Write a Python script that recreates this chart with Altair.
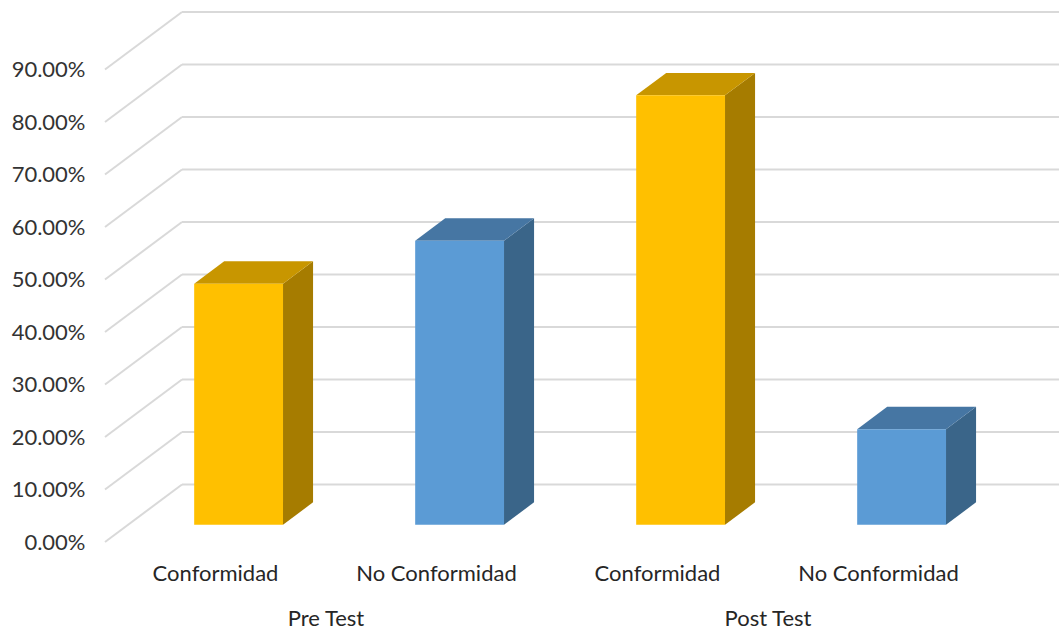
import altair as alt
import pandas as pd

# Survey results (percent of respondents)
groups = ["Pre Test", "Pre Test", "Post Test", "Post Test"]
categories = ["Conformidad", "No Conformidad", "Conformidad", "No Conformidad"]
values = [45.9, 54.1, 81.8, 18.2]
tick_values = [0, 10, 20, 30, 40, 50, 60, 70, 80, 90]

# Pseudo-3D layout (x in category slots, y in percent units)
PX_PER_PCT = 5.25
HEIGHT = 542
WIDTH = 954
SLOT_PX = 221
DX = 77 / SLOT_PX          # wall depth, x units
DY = 57.5 / PX_PER_PCT     # wall depth, y units
F0, F1 = 0.30, 0.69        # bar depth range (fraction of wall depth)
BAR_W = 0.402

palette = {
    "Conformidad": {"front": "#FFC000", "top": "#C89600", "side": "#A67C00"},
    "No Conformidad": {"front": "#5B9BD5", "top": "#4676A3", "side": "#3A6589"},
}

grid_rows = []
for v in tick_values:
    grid_rows.append({"x": 0, "x2": DX, "y": v, "y2": v + DY})
    grid_rows.append({"x": DX, "x2": WIDTH / SLOT_PX, "y": v + DY, "y2": v + DY})
grid = pd.DataFrame(grid_rows)

front_rows, side_rows, top_rows, label_rows = [], [], [], []
for i, (g, c, v) in enumerate(zip(groups, categories, values)):
    xl = i + 0.5 - BAR_W / 2 + F0 * DX
    xr = xl + BAR_W
    d = (F1 - F0) * DX
    b0, b1 = F0 * DY, F1 * DY
    bar = f"{g}-{c}"
    front_rows.append({"bar": bar, "cat": c, "x": xl, "x2": xr, "y": b0, "y2": v + b0})
    side_rows += [
        {"bar": bar, "cat": c, "x": xr, "y": b0, "y2": v + b0},
        {"bar": bar, "cat": c, "x": xr + d, "y": b1, "y2": v + b1},
    ]
    top_rows += [
        {"bar": bar, "cat": c, "x": xl, "y": v + b0, "y2": v + b0},
        {"bar": bar, "cat": c, "x": xl + d, "y": v + b0, "y2": v + b1},
        {"bar": bar, "cat": c, "x": xr, "y": v + b0, "y2": v + b1},
        {"bar": bar, "cat": c, "x": xr + d, "y": v + b1, "y2": v + b1},
    ]
    label_rows.append({"x": i + 0.5, "y": -32 / PX_PER_PCT, "text": c})

group_rows = []
for gname in dict.fromkeys(groups):
    idx = [i for i, g in enumerate(groups) if g == gname]
    group_rows.append({"x": (min(idx) + max(idx) + 1) / 2, "y": -77 / PX_PER_PCT, "text": gname})

front = pd.DataFrame(front_rows)
side = pd.DataFrame(side_rows)
top = pd.DataFrame(top_rows)
labels = pd.DataFrame(label_rows + group_rows)

xscale = alt.Scale(domain=[0, WIDTH / SLOT_PX], nice=False, zero=False)
yscale = alt.Scale(domain=[0, HEIGHT / PX_PER_PCT], nice=False, zero=False)
yaxis = alt.Axis(
    values=tick_values, title=None, grid=False, domain=False, ticks=False,
    labelPadding=20, labelFontSize=22, labelFont="Lato", labelColor="#333333",
    labelExpr="format(datum.value, '.2f') + '%'",
)
X = lambda f: alt.X(f, type="quantitative", scale=xscale, axis=None)
Y = lambda f: alt.Y(f, type="quantitative", scale=yscale, axis=yaxis)
cats = list(palette)


def face_color(face):
    return alt.Color("cat:N", legend=None,
                     scale=alt.Scale(domain=cats, range=[palette[c][face] for c in cats]))


grid_layer = alt.Chart(grid).mark_rule(color="#D9D9D9", strokeWidth=2).encode(
    x=X("x"), x2="x2", y=Y("y"), y2="y2"
)
side_layer = alt.Chart(side).mark_area(opacity=1).encode(
    x=X("x"), y=Y("y"), y2="y2", color=face_color("side"), detail="bar:N"
)
top_layer = alt.Chart(top).mark_area(opacity=1).encode(
    x=X("x"), y=Y("y"), y2="y2", color=face_color("top"), detail="bar:N"
)
front_layer = alt.Chart(front).mark_rect().encode(
    x=X("x"), x2="x2", y=Y("y"), y2="y2", color=face_color("front")
)
text_layer = alt.Chart(labels).mark_text(
    font="Lato", fontSize=22, color="#262626", baseline="middle", align="center"
).encode(x=X("x"), y=Y("y"), text="text:N")

chart = (
    alt.layer(grid_layer, side_layer, top_layer, front_layer, text_layer)
    .resolve_scale(color="independent")
    .properties(
        width=WIDTH, height=HEIGHT,
        autosize=alt.AutoSizeParams(type="none"),
        padding={"left": 105, "top": 0, "right": 0, "bottom": 88},
        background="white",
    )
    .configure_view(stroke=None)
)

chart.save("out.html", embed_options={"renderer": "svg", "actions": False})
